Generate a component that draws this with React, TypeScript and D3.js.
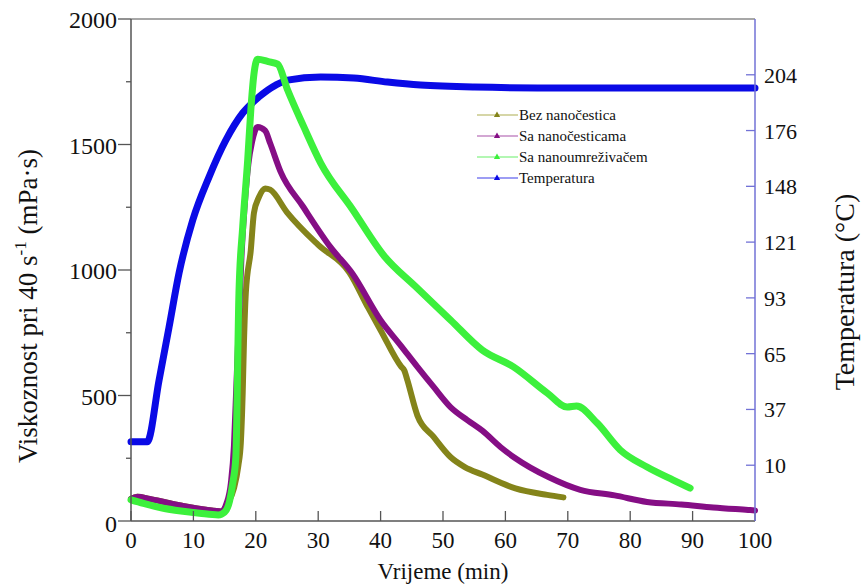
import React from "react";
import * as d3 from "d3";

// ---------- data ----------
const xTicks = [0, 10, 20, 30, 40, 50, 60, 70, 80, 90, 100];
const yTicks = [0, 500, 1000, 1500, 2000];
const yMinorTicks = [250, 750, 1250, 1750];
const tempTickValues = [10, 37.78, 65.56, 93.33, 121.11, 148.89, 176.67, 204.44];
const tempTickLabels = ["10", "37", "65", "93", "121", "148", "176", "204"];

// Bez nanočestica (olive)
const bezTime = [0, 1, 3, 6, 9, 12, 14.5, 15.5, 16.5, 17.2, 17.6, 17.9, 18.1, 18.4, 19.2, 19.7, 20.5, 21.5, 22.3, 25, 30, 35, 38, 40, 43.3, 43.8, 44.3, 45.9, 48.5, 51.2, 53.5, 56.3, 61.6, 66.7, 69.3];
const bezVisc = [88, 97, 88, 72, 57, 45, 38, 70, 130, 220, 311, 510, 709, 908, 1080, 1227, 1290, 1325, 1320, 1230, 1100, 990, 850, 760, 615, 600, 560, 420, 335, 255, 215, 185, 130, 104, 94];

// Sa nanočesticama (purple)
const saTime = [0, 1, 3, 6, 9, 12, 14.5, 15.3, 16, 16.5, 16.9, 17.3, 17.7, 18.2, 18.8, 19.4, 20.3, 21.5, 22.3, 24, 27.5, 32, 35.5, 40, 43.2, 45.9, 48.5, 51.2, 53.9, 56.3, 59.2, 61.6, 66.9, 72, 77.5, 82.7, 88.2, 93.3, 98.9, 100];
const saVisc = [88, 97, 88, 72, 57, 45, 38, 70, 150, 300, 550, 800, 1050, 1250, 1420, 1510, 1570, 1555, 1505, 1390, 1255, 1090, 985, 800, 700, 614, 534, 454, 402, 360, 295, 250, 175, 124, 102, 76, 66, 54, 44, 42];

// Sa nanoumreživačem (green)
const nuTime = [0, 2, 5, 8, 11, 14, 15, 15.8, 16.3, 16.8, 17.3, 17.9, 18.7, 19.2, 19.7, 20.3, 22, 23.5, 25.1, 27.7, 30.4, 35.4, 40.6, 45.6, 51.2, 56.3, 61.3, 66.7, 69.9, 71.4, 74.7, 78.4, 82.7, 86.9, 89.6];
const nuVisc = [84, 70, 52, 40, 31, 24, 35, 80, 150, 255, 908, 1171, 1438, 1637, 1780, 1840, 1830, 1820, 1717, 1570, 1426, 1245, 1055, 934, 801, 681, 614, 510, 454, 458, 390, 283, 215, 163, 131];

// Temperatura (blue, °C)
const tTime = [0, 2.6, 4.5, 6.1, 7.7, 9.9, 12.5, 15.2, 17.9, 20.5, 23.2, 25.1, 30.4, 35.7, 41.1, 46.4, 55, 70, 100];
const tTemp = [21.7, 21.7, 52.4, 78.8, 105.7, 132.1, 153.5, 171.9, 185.4, 193.4, 199.3, 201.8, 203.3, 202.8, 200.8, 199.3, 198.3, 197.8, 197.8];

const seriesNames = ["Bez nanočestica", "Sa nanočesticama", "Sa nanoumreživačem", "Temperatura"];
const seriesColors = ["#84841a", "#850e85", "#3cf03c", "#0a0ae6"];
const legendLineColors = ["#c9c98a", "#c48ac4", "#9af59a", "#7d7df0"];

const FONT = "Liberation Serif, DejaVu Serif, serif";

export default function App() {
  const W = 862, H = 587;
  const left = 131, right = 755, top = 19, bottom = 521;
  const x = d3.scaleLinear().domain([0, 100]).range([left, right]);
  const y = d3.scaleLinear().domain([0, 2000]).range([bottom, top]);
  const yT = d3.scaleLinear().domain([-17.78, 232.22]).range([bottom, top]);

  const lineV = d3.line<[number, number]>().x(d => x(d[0])).y(d => y(d[1])).curve(d3.curveMonotoneX);
  const lineT = d3.line<[number, number]>().x(d => x(d[0])).y(d => yT(d[1])).curve(d3.curveMonotoneX);

  const zip = (a: number[], b: number[]) => a.map((v, i) => [v, b[i]] as [number, number]);
  const visc = [zip(bezTime, bezVisc), zip(saTime, saVisc), zip(nuTime, nuVisc)];
  const temp = zip(tTime, tTemp);

  const tri = (cx: number, cy: number, s: number) =>
    `M${cx},${cy - s} L${cx + s * 0.9},${cy + s * 0.6} L${cx - s * 0.9},${cy + s * 0.6} Z`;

  const legendX = 477, legendY = [115, 136, 157, 178];

  return (
    <svg width={W} height={H} style={{ position: "absolute", left: 0, top: 0, background: "#fff" }}>
      {/* frame */}
      <line x1={left} x2={right} y1={top} y2={top} stroke="#8a8a8a" strokeWidth={1.5} />
      {/* series */}
      <path d={lineT(temp) || ""} fill="none" stroke={seriesColors[3]} strokeWidth={7} strokeLinejoin="round" strokeLinecap="round" />
      {[0, 1, 2].map(i => (
        <path key={i} d={lineV(visc[i]) || ""} fill="none" stroke={seriesColors[i]} strokeWidth={i === 2 ? 7 : 6} strokeLinejoin="round" strokeLinecap="round" />
      ))}
      {/* x axis */}
      <line x1={left} x2={right} y1={bottom} y2={bottom} stroke="#555" strokeWidth={1.5} />
      {xTicks.map(t => (
        <g key={t}>
          <line x1={x(t)} x2={x(t)} y1={bottom} y2={bottom - 10} stroke="#555" strokeWidth={1.3} />
          <text x={x(t)} y={548} fontFamily={FONT} fontSize={23} textAnchor="middle" fill="#111">{t}</text>
        </g>
      ))}
      <text x={x(50)} y={579} fontFamily={FONT} fontSize={23} textAnchor="middle" fill="#111">Vrijeme (min)</text>
      {/* left axis */}
      <line x1={left} x2={left} y1={top} y2={bottom} stroke="#555" strokeWidth={1.5} />
      {yTicks.map(t => (
        <g key={t}>
          <line x1={left - 13} x2={left} y1={y(t)} y2={y(t)} stroke="#555" strokeWidth={1.3} />
          <text x={left - 14} y={y(t) + (t === 0 ? 11 : 9)} fontFamily={FONT} fontSize={24} textAnchor="end" fill="#111">{t}</text>
        </g>
      ))}
      {yMinorTicks.map(t => (
        <line key={t} x1={left - 5} x2={left} y1={y(t)} y2={y(t)} stroke="#555" strokeWidth={1.3} />
      ))}
      <text transform={`translate(37,${(top + bottom) / 2 + 36}) rotate(-90)`} fontFamily={FONT} fontSize={27} textAnchor="middle" fill="#111">
        Viskoznost pri 40 s<tspan dy={-11} fontSize={17}>-1</tspan><tspan dy={11}> (mPa·s)</tspan>
      </text>
      {/* right axis */}
      <line x1={right} x2={right} y1={top} y2={bottom} stroke="#7272d6" strokeWidth={1.5} />
      {tempTickValues.map((t, i) => (
        <g key={t}>
          <line x1={right - 9} x2={right} y1={yT(t)} y2={yT(t)} stroke="#7272d6" strokeWidth={1.3} />
          <text x={right + 9} y={yT(t) + 8} fontFamily={FONT} fontSize={22} textAnchor="start" fill="#111">{tempTickLabels[i]}</text>
        </g>
      ))}
      <text transform={`translate(854,${(top + bottom) / 2 + 22}) rotate(-90)`} fontFamily={FONT} fontSize={28} textAnchor="middle" fill="#111">Temperatura (°C)</text>
      {/* legend */}
      {seriesNames.map((n, i) => (
        <g key={n}>
          <line x1={legendX} x2={legendX + 41} y1={legendY[i]} y2={legendY[i]} stroke={legendLineColors[i]} strokeWidth={1.5} />
          <path d={tri(legendX + 20, legendY[i], 3.5)} fill={seriesColors[i]} />
          <text x={legendX + 42} y={legendY[i] + 5} fontFamily={FONT} fontSize={15} fill="#111">{n}</text>
        </g>
      ))}
    </svg>
  );
}
